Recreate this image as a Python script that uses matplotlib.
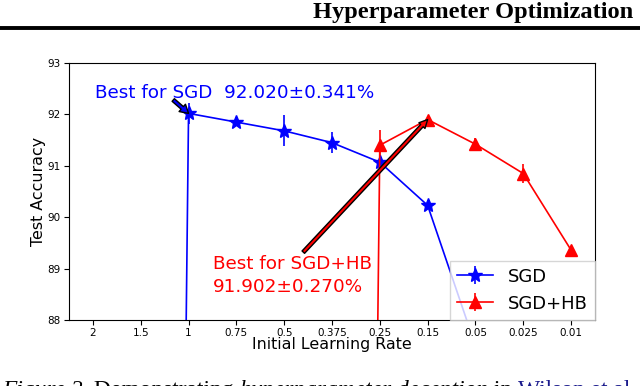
import matplotlib
matplotlib.use('Agg')
import matplotlib.pyplot as plt
from matplotlib.lines import Line2D

# learning rates on the x axis (categorical)
lr_labels = ['2', '1.5', '1', '0.75', '0.5', '0.375', '0.25', '0.15', '0.05', '0.025', '0.01']

# SGD: diverges for the two largest rates, collapses again below 0.15
sgd_idx = [0, 1, 2, 3, 4, 5, 6, 7, 8]
sgd_acc = [10.0, 10.0, 92.02, 91.85, 91.68, 91.45, 91.07, 90.23, 87.5]
sgd_err = [0.0, 0.0, 0.20, 0.07, 0.30, 0.20, 0.10, 0.07, 0.10]

# SGD + heavy ball momentum
hb_idx = [0, 1, 2, 3, 4, 5, 6, 7, 8, 9, 10]
hb_acc = [10.0, 10.0, 10.0, 10.0, 10.0, 10.0, 91.40, 91.90, 91.42, 90.85, 89.36]
hb_err = [0.0, 0.0, 0.0, 0.0, 0.0, 0.0, 0.30, 0.05, 0.12, 0.18, 0.06]

fig = plt.figure(figsize=(6.4, 3.86), dpi=100)
ax = fig.add_axes([69 / 640, 66 / 386, 526 / 640, 257 / 386])

ax.errorbar(sgd_idx, sgd_acc, yerr=sgd_err, color='blue', marker='*',
            markersize=10, linewidth=1.2, label='SGD')
ax.errorbar(hb_idx, hb_acc, yerr=hb_err, color='red', marker='^',
            markersize=9, linewidth=1.2, label='SGD+HB')

ax.set_xlim(-0.5, 10.5)
ax.set_ylim(88, 93)
ax.set_xticks(range(len(lr_labels)))
ax.set_xticklabels(lr_labels)
ax.set_yticks([88, 89, 90, 91, 92, 93])
ax.tick_params(labelsize=7.5, pad=2.5)
ax.set_xlabel('Initial Learning Rate', fontsize=11.4)
ax.set_ylabel('Test Accuracy', fontsize=11.4)
ax.xaxis.set_label_coords(0.5, -0.068)
ax.yaxis.set_label_coords(-0.043, 0.5)

# best-result callouts
ax.text(0.04, 92.42, 'Best for SGD  92.020\u00b10.341%', color='blue',
        fontsize=13.2, va='center')
ax.annotate('', xy=(sgd_idx[2], sgd_acc[2]), xytext=(1.68, 92.28),
            arrowprops=dict(facecolor='blue', edgecolor='black', width=2.5,
                            headwidth=7, headlength=6, shrink=0.0))
ax.text(2.51, 88.87, 'Best for SGD+HB\n91.902\u00b10.270%', color='red',
        fontsize=13.2, va='center', linespacing=1.35)
ax.annotate('', xy=(hb_idx[7], hb_acc[7]), xytext=(4.4, 89.32),
            arrowprops=dict(facecolor='red', edgecolor='black', width=2.5,
                            headwidth=6, headlength=6, shrink=0.0))

ax.legend(loc='lower right', fontsize=13, borderaxespad=0, fancybox=False)

# page furniture around the figure: running header and caption
fig.text(313 / 640, 1 - 18 / 386, 'Hyperparameter Optimization I', family='Liberation Serif',
         weight='bold', fontsize=17.6, va='baseline', ha='left')
fig.add_artist(Line2D([0, 1], [1 - 28 / 386, 1 - 28 / 386], color='black', linewidth=2.8,
                      transform=fig.transFigure))

renderer = fig.canvas.get_renderer()
cap_y = -10 / 386
x = 2 / 640
parts = [('Figure 2.', 'italic', 'black'),
         (' Demonstrating ', 'normal', 'black'),
         ('hyperparameter deception', 'italic', 'black'),
         (' in ', 'normal', 'black'),
         ('Wilson et al.', 'normal', '#1a1a8c')]
for txt, st, col in parts:
    t = fig.text(x, cap_y, txt, family='Liberation Serif', style=st, fontsize=16.9,
                 color=col, va='baseline', ha='left')
    x = t.get_window_extent(renderer).x1 / fig.bbox.width

fig.savefig('out.png', dpi=100)
